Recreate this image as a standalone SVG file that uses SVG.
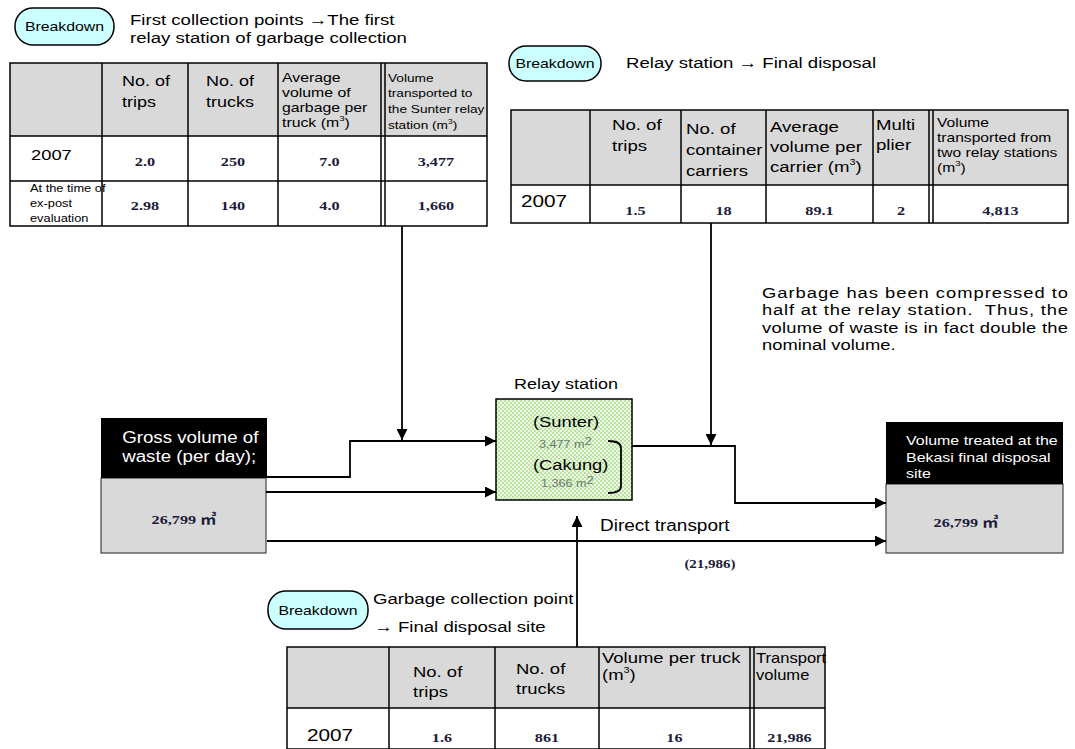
<svg xmlns="http://www.w3.org/2000/svg" width="1075" height="749" viewBox="0 0 1075 749">
<style>
.t{font-family:"Liberation Sans",Arial,sans-serif;fill:#000}
.w{fill:#fff}
.n{font-family:"Liberation Serif","Times New Roman","Noto Sans CJK JP",serif;font-weight:bold;fill:#1c1c3a}
.sx{transform-box:fill-box;transform-origin:0 50%;transform:scaleX(1.2)}
.sxm{transform-box:fill-box;transform-origin:50% 50%;transform:scaleX(1.2)}
.hd{fill:#d9d9d9}
.grid{fill:none;stroke:#000;stroke-width:1.5}
.pill{fill:#ccffff;stroke:#000;stroke-width:1.5}
.blk{fill:#000}
.gry{fill:#d9d9d9;stroke:#444;stroke-width:1.2}
.conn{fill:none;stroke:#000;stroke-width:1.8}
.gn{font-family:"Liberation Sans",Arial,sans-serif;fill:#6b7a6b}
</style>
<defs>
<marker id="ah" viewBox="0 0 10 10" refX="10" refY="5" markerWidth="11" markerHeight="11" markerUnits="userSpaceOnUse" orient="auto"><path d="M0,0 L10,5 L0,10 z" fill="#000"/></marker>
<pattern id="dots" width="4" height="4" patternUnits="userSpaceOnUse"><rect width="4" height="4" fill="#eef9e4"/><circle cx="1" cy="1" r="0.9" fill="#a3d985"/><circle cx="3" cy="3" r="0.9" fill="#a3d985"/></pattern>
</defs>
<rect width="1075" height="749" fill="#fff"/>

<!-- Breakdown 1 -->
<g id="breakdown1">
<rect class="pill" x="15" y="8" width="99" height="37" rx="18"/>
<text class="t sxm" x="64.5" y="31.5" font-size="13.2" text-anchor="middle">Breakdown</text>
<text class="t sx" font-size="15.5"><tspan x="130" y="25">First collection points →The first</tspan><tspan x="130" y="43">relay station of garbage collection</tspan></text>
</g>

<!-- Table 1 -->
<g id="table1">
<rect class="hd" x="10" y="63" width="477" height="73"/>
<rect x="10" y="136" width="477" height="90" fill="#fff"/>
<rect class="grid" x="10" y="63" width="477" height="163"/>
<path class="grid" d="M10,136 H487 M10,181 H487 M102,63 V226 M188,63 V226 M278,63 V226 M381,63 V226 M385,63 V226"/>
<text class="t sx" font-size="15"><tspan x="122" y="86">No. of</tspan><tspan x="122" y="107">trips</tspan></text>
<text class="t sx" font-size="15"><tspan x="206" y="86">No. of</tspan><tspan x="206" y="107">trucks</tspan></text>
<text class="t sx" font-size="13.2"><tspan x="282" y="82">Average</tspan><tspan x="282" y="97">volume of</tspan><tspan x="282" y="112">garbage per</tspan><tspan x="282" y="127">truck (m</tspan><tspan dy="-6" font-size="8">3</tspan><tspan dy="6">)</tspan></text>
<text class="t sx" font-size="11.4"><tspan x="388" y="82">Volume</tspan><tspan x="388" y="97">transported to</tspan><tspan x="388" y="113">the Sunter relay</tspan><tspan x="388" y="129">station (m</tspan><tspan dy="-5" font-size="7">3</tspan><tspan dy="5">)</tspan></text>
<text class="t sx" x="31" y="160" font-size="15.3">2007</text>
<text class="t sx" font-size="10.7"><tspan x="30" y="192">At the time of</tspan><tspan x="30" y="207">ex-post</tspan><tspan x="30" y="222">evaluation</tspan></text>
<g class="n" font-size="13.5" text-anchor="middle">
<text class="sxm" x="145" y="166">2.0</text><text class="sxm" x="233" y="166">250</text><text class="sxm" x="329.5" y="166">7.0</text><text class="sxm" x="436" y="166">3,477</text>
<text class="sxm" x="145" y="210">2.98</text><text class="sxm" x="233" y="210">140</text><text class="sxm" x="329.5" y="210">4.0</text><text class="sxm" x="436" y="210">1,660</text>
</g>
</g>

<!-- Breakdown 2 -->
<g id="breakdown2">
<rect class="pill" x="509" y="46" width="92" height="35" rx="17"/>
<text class="t sxm" x="555" y="68.5" font-size="13.2" text-anchor="middle">Breakdown</text>
<text class="t sx" x="626" y="68" font-size="15.5">Relay station → Final disposal</text>
</g>

<!-- Table 2 -->
<g id="table2">
<rect class="hd" x="511" y="110" width="557" height="75"/>
<rect x="511" y="185" width="557" height="38" fill="#fff"/>
<rect class="grid" x="511" y="110" width="557" height="113"/>
<path class="grid" d="M511,185 H1068 M590,110 V223 M681,110 V223 M766,110 V223 M873,110 V223 M929,110 V223 M933,110 V223"/>
<text class="t sx" font-size="15.5"><tspan x="612" y="130">No. of</tspan><tspan x="612" y="151">trips</tspan></text>
<text class="t sx" font-size="15.5"><tspan x="686" y="134">No. of</tspan><tspan x="686" y="155">container</tspan><tspan x="686" y="176">carriers</tspan></text>
<text class="t sx" font-size="15.5"><tspan x="770" y="132">Average</tspan><tspan x="770" y="152">volume per</tspan><tspan x="770" y="172">carrier (m</tspan><tspan dy="-7" font-size="9">3</tspan><tspan dy="7">)</tspan></text>
<text class="t sx" font-size="15.5"><tspan x="876" y="130">Multi</tspan><tspan x="876" y="150">plier</tspan></text>
<text class="t sx" font-size="13"><tspan x="937" y="127">Volume</tspan><tspan x="937" y="142">transported from</tspan><tspan x="937" y="157">two relay stations</tspan><tspan x="937" y="172">(m</tspan><tspan dy="-6" font-size="8">3</tspan><tspan dy="6">)</tspan></text>
<text class="t sx" x="521" y="207" font-size="17.3">2007</text>
<g class="n" font-size="13.5" text-anchor="middle">
<text class="sxm" x="635.5" y="215">1.5</text><text class="sxm" x="723.5" y="215">18</text><text class="sxm" x="819.5" y="215">89.1</text><text class="sxm" x="901" y="215">2</text><text class="sxm" x="1000.5" y="215">4,813</text>
</g>
</g>

<!-- Note -->
<g id="note">
<text class="t sx" font-size="15.3"><tspan x="762" y="298" textLength="255" lengthAdjust="spacing">Garbage has been compressed to</tspan><tspan x="762" y="315.5" textLength="255" lengthAdjust="spacing">half at the relay station.&#160; Thus, the</tspan><tspan x="762" y="333" textLength="255" lengthAdjust="spacing">volume of waste is in fact double the</tspan><tspan x="762" y="350.5">nominal volume.</tspan></text>
</g>

<!-- Gross volume -->
<g id="gross">
<rect class="gry" x="101" y="478" width="165" height="75"/>
<rect class="blk" x="101" y="418" width="166" height="60"/>
<text class="t w sx" font-size="15.6"><tspan x="122" y="443">Gross volume of</tspan><tspan x="122" y="462">waste (per day);</tspan></text>
<text class="n sxm" x="184" y="524" font-size="13.5" text-anchor="middle">26,799 ㎥</text>
</g>

<!-- Relay station -->
<g id="relay">
<text class="t sxm" x="566" y="389" font-size="15" text-anchor="middle">Relay station</text>
<rect x="496" y="399" width="136" height="101" fill="url(#dots)" stroke="#000" stroke-width="1.5"/>
<text class="t sx" x="533" y="427" font-size="15.3">(Sunter)</text>
<text class="gn sx" x="539" y="448" font-size="10.5">3,477 m<tspan dy="-3" font-size="11">2</tspan></text>
<text class="t sx" x="533" y="470" font-size="15.3">(Cakung)</text>
<text class="gn sx" x="541" y="487" font-size="10.5">1,366 m<tspan dy="-3" font-size="11">2</tspan></text>
<path d="M608,441 Q621,441 621,448 V486 Q621,493 608,493" fill="none" stroke="#000" stroke-width="1.8"/>
</g>

<!-- Final disposal -->
<g id="bekasi">
<rect class="gry" x="886" y="484" width="177" height="69"/>
<rect class="blk" x="886" y="422" width="177" height="62"/>
<text class="t w sx" font-size="13.3"><tspan x="906" y="445">Volume treated at the</tspan><tspan x="906" y="462">Bekasi final disposal</tspan><tspan x="906" y="478">site</tspan></text>
<text class="n sxm" x="966" y="527" font-size="13.5" text-anchor="middle">26,799 ㎥</text>
</g>

<!-- Direct transport labels -->
<g id="direct">
<text class="t sx" x="600" y="531" font-size="15.8">Direct transport</text>
<text class="n sxm" x="710" y="568" font-size="12.5" text-anchor="middle" font-weight="normal">(21,986)</text>
</g>

<!-- Breakdown 3 -->
<g id="breakdown3">
<rect class="pill" x="268" y="591" width="100" height="38" rx="18"/>
<text class="t sxm" x="318" y="615" font-size="13.2" text-anchor="middle">Breakdown</text>
<text class="t sx" font-size="15.5"><tspan x="373" y="604">Garbage collection point</tspan><tspan x="374" y="632">→ Final disposal site</tspan></text>
</g>

<!-- Table 3 -->
<g id="table3">
<rect class="hd" x="287" y="647" width="538" height="61"/>
<rect x="287" y="708" width="538" height="41" fill="#fff"/>
<rect class="grid" x="287" y="647" width="538" height="102"/>
<path class="grid" d="M287,708 H825 M389,647 V749 M495,647 V749 M599,647 V749 M750,647 V749 M754,647 V749"/>
<text class="t sx" font-size="15.4"><tspan x="413" y="677">No. of</tspan><tspan x="413" y="697">trips</tspan></text>
<text class="t sx" font-size="15.4"><tspan x="516" y="674">No. of</tspan><tspan x="516" y="694">trucks</tspan></text>
<text class="t sx" font-size="15.4"><tspan x="602" y="663">Volume per truck</tspan><tspan x="602" y="680">(m</tspan><tspan dy="-7" font-size="9">3</tspan><tspan dy="7">)</tspan></text>
<text class="t sx" font-size="13.8"><tspan x="756" y="663">Transport</tspan><tspan x="756" y="680">volume</tspan></text>
<text class="t sx" x="307" y="741" font-size="17.3">2007</text>
<g class="n" font-size="13.5" text-anchor="middle">
<text class="sxm" x="442" y="742">1.6</text><text class="sxm" x="547" y="742">861</text><text class="sxm" x="674.5" y="742">16</text><text class="sxm" x="789.5" y="742">21,986</text>
</g>
</g>

<!-- Connectors -->
<g id="connectors" class="conn">
<path d="M402,226 V440" marker-end="url(#ah)"/>
<path d="M267,477 H350 V441 H496" marker-end="url(#ah)"/>
<path d="M266,492 H496" marker-end="url(#ah)"/>
<path d="M267,541 H886" marker-end="url(#ah)"/>
<path d="M632,446 H735 V503 H886" marker-end="url(#ah)"/>
<path d="M711,223 V445" marker-end="url(#ah)"/>
<path d="M577,647 V516" marker-end="url(#ah)"/>
</g>
</svg>
